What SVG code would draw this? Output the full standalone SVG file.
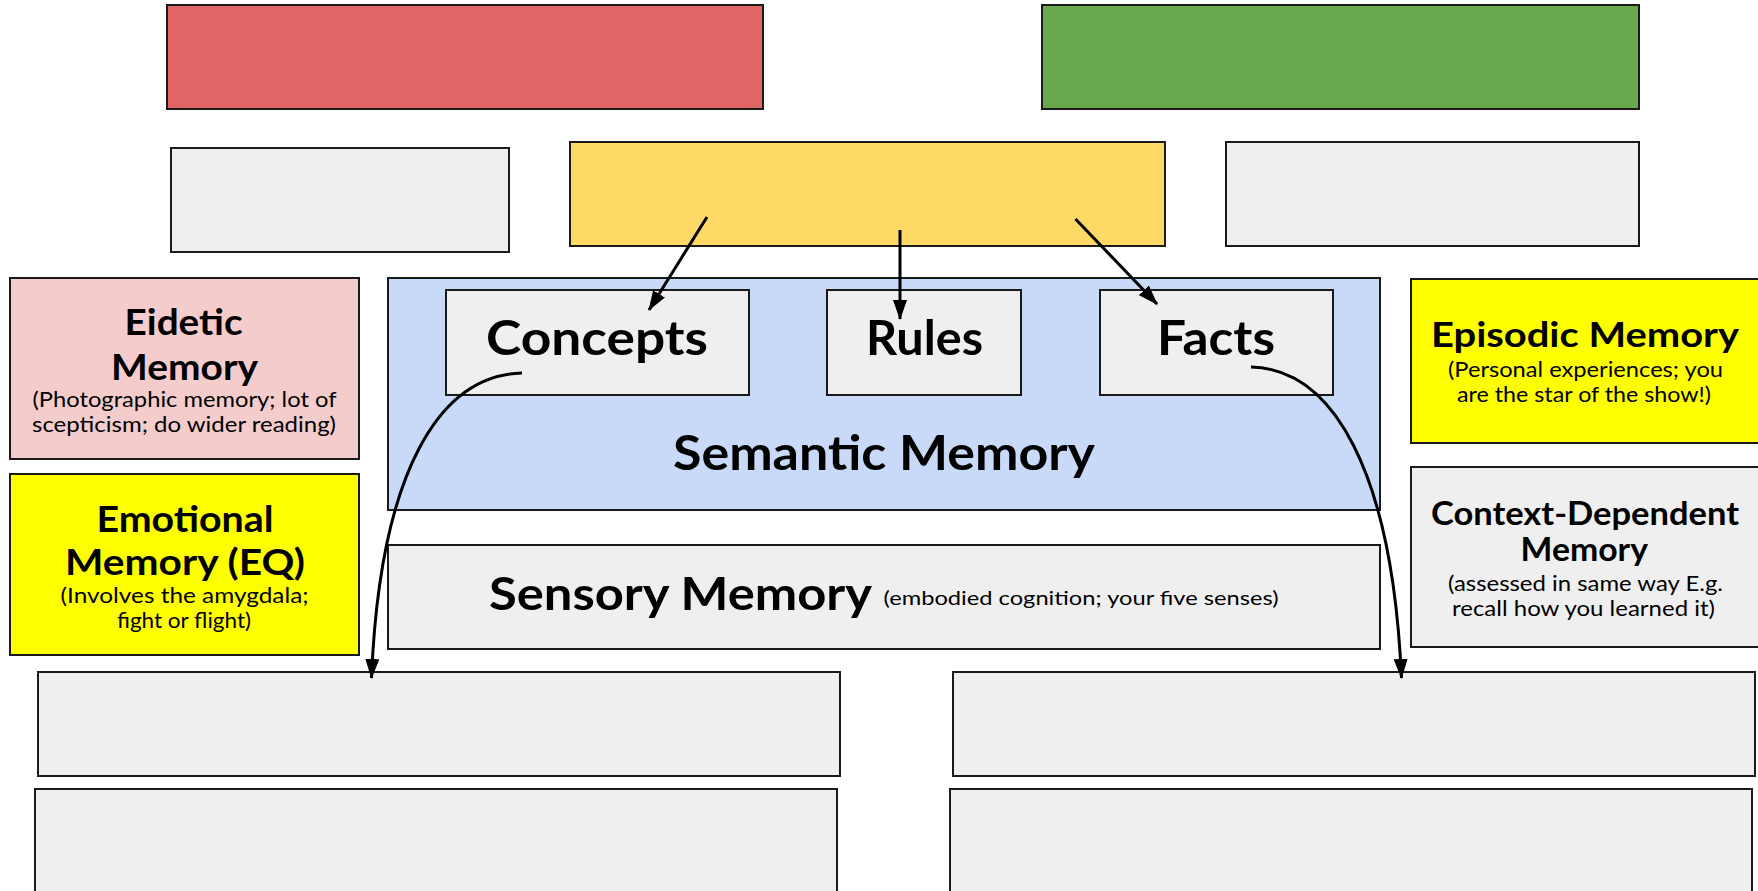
<svg xmlns="http://www.w3.org/2000/svg" width="1758" height="891" viewBox="0 0 1758 891">
<style>
.box{stroke:#1a1a1a;stroke-width:2}
.g{fill:#efefef}
.t{font-family:Lato,"Open Sans","Liberation Sans",sans-serif;fill:#000}
.b{font-weight:bold}
.s{font-size:21px}
.c{fill:none;stroke:#000;stroke-width:3}
</style>
<defs>
<marker id="ah" markerUnits="userSpaceOnUse" viewBox="0 0 20 14" refX="19" refY="7" markerWidth="20" markerHeight="14" orient="auto">
<path d="M0,0 L20,7 L0,14 z" fill="#000"/>
</marker>
</defs>
<rect width="1758" height="891" fill="#fff"/>
<g id="red"><rect class="box" x="167" y="5" width="596" height="104" fill="#e06666"/></g>
<g id="green"><rect class="box" x="1042" y="5" width="597" height="104" fill="#6aa84f"/></g>
<g id="grey-tl"><rect class="box g" x="171" y="148" width="338" height="104"/></g>
<g id="yellow-top"><rect class="box" x="570" y="142" width="595" height="104" fill="#ffd966"/></g>
<g id="grey-tr"><rect class="box g" x="1226" y="142" width="413" height="104"/></g>
<g id="eidetic">
<rect class="box" x="10" y="278" width="349" height="181" fill="#f4cccc"/>
<text class="t b" x="124.6" y="335" font-size="37" textLength="118" lengthAdjust="spacingAndGlyphs">Eidetic</text>
<text class="t b" x="111" y="380" font-size="37" textLength="147" lengthAdjust="spacingAndGlyphs">Memory</text>
<text class="t s" x="32.5" y="407" textLength="304" lengthAdjust="spacingAndGlyphs">(Photographic memory; lot of</text>
<text class="t s" x="32" y="432" textLength="304" lengthAdjust="spacingAndGlyphs">scepticism; do wider reading)</text>
</g>
<g id="semantic">
<rect class="box" x="388" y="278" width="992" height="232" fill="#c9daf8" stroke="#444"/>
<text class="t b" x="673" y="470" font-size="47" textLength="422" lengthAdjust="spacingAndGlyphs">Semantic Memory</text>
</g>
<g id="concepts">
<rect class="box g" x="446" y="290" width="303" height="105"/>
<text class="t b" x="486" y="355" font-size="48" textLength="222" lengthAdjust="spacingAndGlyphs">Concepts</text>
</g>
<g id="rules">
<rect class="box g" x="827" y="290" width="194" height="105"/>
<text class="t b" x="866" y="355" font-size="48" textLength="117" lengthAdjust="spacingAndGlyphs">Rules</text>
</g>
<g id="facts">
<rect class="box g" x="1100" y="290" width="233" height="105"/>
<text class="t b" x="1157" y="355" font-size="48" textLength="118" lengthAdjust="spacingAndGlyphs">Facts</text>
</g>
<g id="episodic">
<rect class="box" x="1411" y="279" width="350" height="164" fill="#ffff00"/>
<text class="t b" x="1431" y="347" font-size="35" textLength="308" lengthAdjust="spacingAndGlyphs">Episodic Memory</text>
<text class="t s" x="1448" y="377" textLength="275" lengthAdjust="spacingAndGlyphs">(Personal experiences; you</text>
<text class="t s" x="1457" y="402" textLength="254" lengthAdjust="spacingAndGlyphs">are the star of the show!)</text>
</g>
<g id="emotional">
<rect class="box" x="10" y="474" width="349" height="181" fill="#ffff00"/>
<text class="t b" x="96.5" y="532" font-size="37" textLength="177" lengthAdjust="spacingAndGlyphs">Emotional</text>
<text class="t b" x="65" y="575" font-size="37" textLength="240" lengthAdjust="spacingAndGlyphs">Memory (EQ)</text>
<text class="t s" x="60.6" y="603" textLength="248" lengthAdjust="spacingAndGlyphs">(Involves the amygdala;</text>
<text class="t s" x="117" y="628" textLength="134" lengthAdjust="spacingAndGlyphs">fight or flight)</text>
</g>
<g id="sensory">
<rect class="box g" x="388" y="545" width="992" height="104" stroke="#444"/>
<text class="t b" x="489" y="610" font-size="46" textLength="383" lengthAdjust="spacingAndGlyphs">Sensory Memory</text>
<text class="t" x="883.6" y="605" font-size="20" textLength="395" lengthAdjust="spacingAndGlyphs">(embodied cognition; your five senses)</text>
</g>
<g id="context">
<rect class="box g" x="1411" y="467" width="350" height="180"/>
<text class="t b" x="1431" y="525" font-size="32" textLength="308" lengthAdjust="spacingAndGlyphs">Context-Dependent</text>
<text class="t b" x="1520.5" y="561" font-size="32" textLength="127.5" lengthAdjust="spacingAndGlyphs">Memory</text>
<text class="t s" x="1448" y="591" textLength="275" lengthAdjust="spacingAndGlyphs">(assessed in same way E.g.</text>
<text class="t s" x="1452" y="616" textLength="263" lengthAdjust="spacingAndGlyphs">recall how you learned it)</text>
</g>
<g id="bl1"><rect class="box g" x="38" y="672" width="802" height="104"/></g>
<g id="bl2"><rect class="box g" x="35" y="789" width="802" height="120"/></g>
<g id="br1"><rect class="box g" x="953" y="672" width="802" height="104"/></g>
<g id="br2"><rect class="box g" x="950" y="789" width="802" height="120"/></g>
<g id="connectors">
<line class="c" x1="707" y1="217" x2="649" y2="310" marker-end="url(#ah)"/>
<line class="c" x1="900" y1="230" x2="900" y2="319" marker-end="url(#ah)"/>
<line class="c" x1="1075.5" y1="219" x2="1157" y2="304" marker-end="url(#ah)"/>
<path class="c" d="M522,373 C440,375 380,470 371.5,678" marker-end="url(#ah)"/>
<path class="c" d="M1251,367 C1333,369 1392,470 1401.5,678" marker-end="url(#ah)"/>
</g>
</svg>
